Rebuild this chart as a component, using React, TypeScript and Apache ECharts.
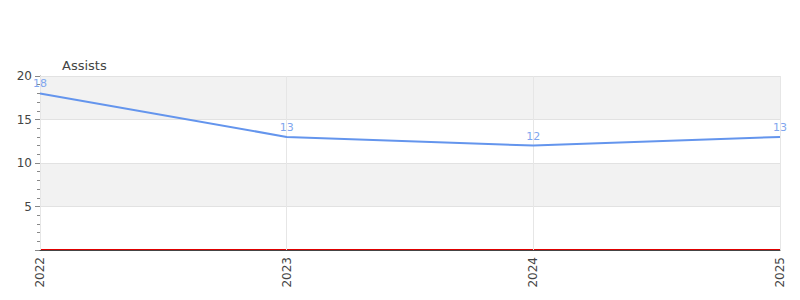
import React, { useEffect, useRef } from "react";
import * as echarts from "echarts";

const years = ["2022", "2023", "2024", "2025"];
const assists = [18, 13, 12, 13];
const baseline = [0, 0, 0, 0];
const yTicks = [0, 5, 10, 15, 20];

export default function App() {
  const ref = useRef<HTMLDivElement>(null);
  useEffect(() => {
    if (!ref.current) return;
    const chart = echarts.init(ref.current, undefined, { renderer: "svg" });
    chart.setOption({
      animation: false,
      textStyle: { fontFamily: "DejaVu Sans" },
      grid: { left: 32, right: 28, top: 68, bottom: 58 },
      xAxis: {
        type: "category",
        data: years,
        boundaryGap: false,
        z: 5,
        axisLine: { lineStyle: { color: "#444", width: 1 } },
        axisTick: { show: false },
        axisLabel: { rotate: 90, color: "#444", fontSize: 12, margin: 7 },
        splitLine: { show: true, lineStyle: { color: "#e6e6e6" } },
      },
      yAxis: {
        type: "value",
        min: yTicks[0],
        max: yTicks[yTicks.length - 1],
        interval: 5,
        name: "Assists",
        nameLocation: "end",
        nameGap: 4,
        nameTextStyle: { color: "#444", fontSize: 13, align: "left", padding: [0, 0, 0, 22] },
        axisLine: { show: true, lineStyle: { color: "#888" } },
        axisTick: { show: true, length: 5, lineStyle: { color: "#888" } },
        minorTick: { show: true, splitNumber: 5, length: 3, lineStyle: { color: "#888" } },
        axisLabel: { color: "#444", fontSize: 12, margin: 8, showMinLabel: false },
        splitLine: { show: true, lineStyle: { color: "#e2e2e2" } },
        splitArea: { show: true, areaStyle: { color: ["#ffffff", "#f2f2f2"] } },
      },
      series: [
        {
          type: "line",
          data: baseline,
          symbol: "none",
          lineStyle: { color: "#e00000", width: 2 },
          itemStyle: { color: "#e00000" },
          z: 1,
        },
        {
          type: "line",
          data: assists,
          symbolSize: 0,
          lineStyle: { color: "#6495ed", width: 2 },
          itemStyle: { color: "#6495ed" },
          label: { show: true, position: "top", color: "#7fa6ee", fontSize: 11, distance: 4 },
          z: 6,
        },
      ],
    });
    return () => chart.dispose();
  }, []);
  return <div ref={ref} style={{ width: 800, height: 300 }} />;
}
